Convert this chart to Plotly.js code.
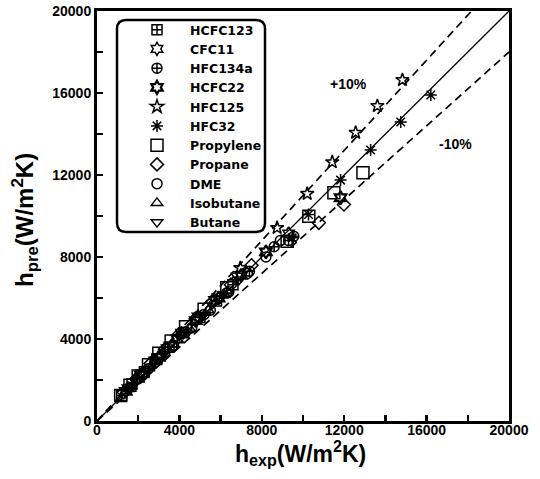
<!DOCTYPE html>
<html>
<head>
<meta charset="utf-8">
<script src="https://cdn.plot.ly/plotly-3.0.1.min.js"></script>
<style>html,body{margin:0;padding:0;background:#fff;}#chart{width:540px;height:479px;}</style>
</head>
<body>
<div id="chart"></div>
<script>
// ---- data (h_exp, h_pre in W/m2K) ----
const seriesNames = ["HCFC123","CFC11","HFC134a","HCFC22","HFC125","HFC32","Propylene","Propane","DME","Isobutane","Butane"];
const seriesSymbols = ["square-cross-open","hexagram-open","circle-cross-open","hexagram-open","star-open","asterisk-open","square-open","diamond-open","circle-open","triangle-up-open","triangle-down-open"];

const HCFC123_x = [1200, 1700, 2300, 2900, 3500, 4200, 5000, 5800, 6600];
const HCFC123_y = [1250, 1800, 2400, 3000, 3600, 4300, 5050, 5850, 6650];

const CFC11_x = [1500, 2100, 2800, 3400, 4100, 4900, 5700, 6800, 9300];
const CFC11_y = [1600, 2250, 2950, 3550, 4300, 5100, 5900, 7050, 9150];

const HFC134a_x = [1600, 2500, 3300, 4300, 5200, 6300, 7400, 8600, 9300, 9555];
const HFC134a_y = [1650, 2550, 3350, 4350, 5200, 6250, 7300, 8500, 8800, 9012];

const HCFC22_x = [1400, 2200, 3000, 3900, 4800, 5900, 7000, 8200, 11824];
const HCFC22_y = [1450, 2300, 3100, 4000, 4900, 6000, 7100, 8250, 10890];

const HFC125_x = [6958, 8744, 10204, 11420, 12554, 13610, 14826];
const HFC125_y = [7467, 9423, 11086, 12630, 14068, 15370, 16640];

const HFC32_x = [9474, 10267, 11824, 13284, 14744, 16204];
const HFC32_y = [8934, 10073, 11751, 13218, 14587, 15907];

const Propylene_x = [1150, 1600, 2000, 2500, 3000, 3600, 4300, 5200, 6300, 9230, 10283, 11500, 12910];
const Propylene_y = [1250, 1750, 2200, 2750, 3300, 3900, 4600, 5450, 6500, 8768, 9990, 11134, 12113];

const Propane_x = [1300, 1900, 2600, 3300, 4000, 4800, 5600, 6500, 7500, 10770, 11987];
const Propane_y = [1400, 2050, 2800, 3500, 4250, 5000, 5800, 6650, 7600, 9667, 10562];

const DME_x = [2000, 2800, 3700, 4600, 5500, 6400, 7300, 8200, 8900];
const DME_y = [2050, 2850, 3700, 4550, 5400, 6300, 7200, 8000, 8800];

const Isobutane_x = [1400, 2100, 2900, 3700, 4500, 5400, 6200];
const Isobutane_y = [1450, 2150, 2950, 3750, 4500, 5400, 6150];

const Butane_x = [1700, 2500, 3300, 4200, 5100, 6000, 6900];
const Butane_y = [1750, 2550, 3350, 4250, 5100, 6000, 6900];

const seriesX = [HCFC123_x, CFC11_x, HFC134a_x, HCFC22_x, HFC125_x, HFC32_x, Propylene_x, Propane_x, DME_x, Isobutane_x, Butane_x];
const seriesY = [HCFC123_y, CFC11_y, HFC134a_y, HCFC22_y, HFC125_y, HFC32_y, Propylene_y, Propane_y, DME_y, Isobutane_y, Butane_y];

// reference lines: slope factors
const refSlopes = [1.1, 1.0, 0.9];
const refDash = ["8px,5px", "solid", "8px,5px"];
const axisMax = 20000;

const tickVals = [0, 4000, 8000, 12000, 16000, 20000];
const tickText = ["0", "4000", "8000", "12000", "16000", "20000"];
const minorTickStep = 2000;

const bandLabels = ["+10%", "-10%"];
const bandLabelX = [12200, 17400];
const bandLabelY = [16430, 13500];

// ---- traces ----
const traces = [];
refSlopes.forEach((s, i) => {
  const xEnd = Math.min(axisMax, axisMax / s);
  traces.push({
    x: [0, xEnd], y: [0, xEnd * s], mode: "lines", showlegend: false, hoverinfo: "skip",
    line: {color: "#000", width: i === 1 ? 1.3 : 1.7, dash: refDash[i]}
  });
});
seriesNames.forEach((name, i) => {
  traces.push({
    x: seriesX[i], y: seriesY[i], name: name, mode: "markers", type: "scatter",
    marker: {symbol: seriesSymbols[i], size: (name === "Propylene") ? 12 : 10, color: "#000",
             line: {color: "#000", width: (name === "HCFC22") ? 2.2 : 1.5}}
  });
});

// rounded legend box (pixel -> paper helper)
const plotL = 97, plotR = 509, plotT = 11, plotB = 421;
const px = v => (v - plotL) / (plotR - plotL);
const py = v => (plotB - v) / (plotB - plotT);
function roundRect(x0, y0, x1, y1, r) {
  return `M ${px(x0 + r)} ${py(y0)} L ${px(x1 - r)} ${py(y0)} Q ${px(x1)} ${py(y0)} ${px(x1)} ${py(y0 + r)} ` +
         `L ${px(x1)} ${py(y1 - r)} Q ${px(x1)} ${py(y1)} ${px(x1 - r)} ${py(y1)} ` +
         `L ${px(x0 + r)} ${py(y1)} Q ${px(x0)} ${py(y1)} ${px(x0)} ${py(y1 - r)} ` +
         `L ${px(x0)} ${py(y0 + r)} Q ${px(x0)} ${py(y0)} ${px(x0 + r)} ${py(y0)} Z`;
}

const fontFam = "Liberation Sans, Arial, Helvetica, sans-serif";
const legendFam = "DejaVu Sans, Liberation Sans, Arial, sans-serif";
const axisCommon = {
  range: [0, axisMax], tickmode: "array", tickvals: tickVals, ticktext: tickText,
  ticks: "inside", ticklen: 6, tickwidth: 2.5, tickcolor: "#000",
  minor: {ticks: "inside", dtick: minorTickStep, tick0: 0, ticklen: 6, tickwidth: 2.5, tickcolor: "#000", showgrid: false},
  showline: true, linewidth: 3, linecolor: "#000", mirror: true,
  showgrid: false, zeroline: false, fixedrange: true,
  tickfont: {family: fontFam, size: 14, color: "#000", weight: "bold"}
};

const layout = {
  width: 540, height: 479,
  margin: {l: plotL, r: 540 - plotR, t: plotT, b: 479 - plotB},
  paper_bgcolor: "#fff", plot_bgcolor: "#fff",
  xaxis: Object.assign({}, axisCommon, {ticklabelstandoff: -6}),
  yaxis: Object.assign({}, axisCommon, {ticklabelstandoff: 0}),
  showlegend: true,
  legend: {
    x: px(124), y: py(15), xanchor: "left", yanchor: "top",
    bgcolor: "rgba(0,0,0,0)", borderwidth: 0, tracegroupgap: 0, itemwidth: 56,
    font: {family: legendFam, size: 12.5, color: "#000", weight: "bold"}
  },
  shapes: [{type: "path", xref: "paper", yref: "paper", path: roundRect(117, 20, 265, 232, 9),
            line: {color: "#000", width: 2.5}, fillcolor: "rgba(0,0,0,0)", layer: "above"}],
  annotations: [
    {text: "h<sub>exp</sub>(W/m<sup>2</sup>K)", xref: "paper", yref: "paper", x: px(300), y: py(453),
     showarrow: false, xanchor: "center", yanchor: "middle",
     font: {family: fontFam, size: 23, color: "#000", weight: "bold"}},
    {text: "h<sub>pre</sub>(W/m<sup>2</sup>K)", xref: "paper", yref: "paper", x: px(25), y: py(220),
     showarrow: false, xanchor: "center", yanchor: "middle", textangle: -90,
     font: {family: fontFam, size: 24, color: "#000", weight: "bold"}}
  ].concat(bandLabels.map((t, i) => ({
     text: t, x: bandLabelX[i], y: bandLabelY[i], xref: "x", yref: "y", showarrow: false,
     font: {family: fontFam, size: 14, color: "#000", weight: "bold"}
  })))
};

Plotly.newPlot("chart", traces, layout, {staticPlot: true, displayModeBar: false});
</script>
</body>
</html>
